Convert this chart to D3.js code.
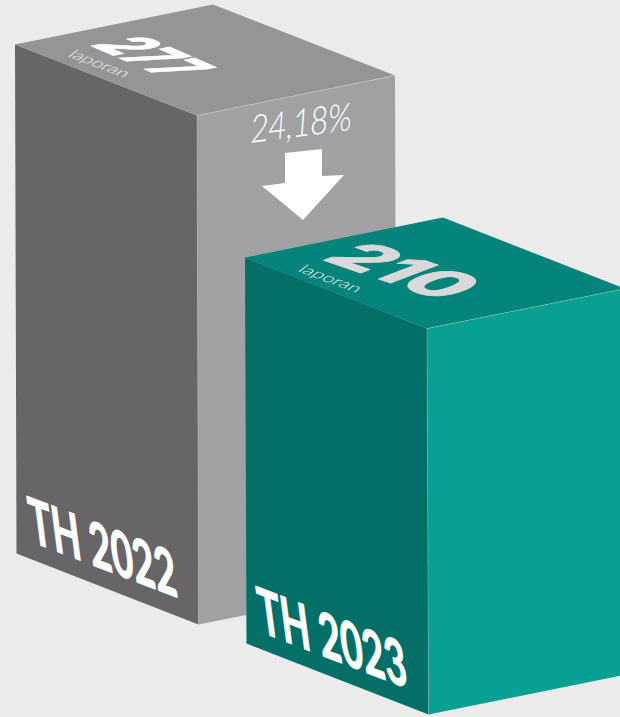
<!DOCTYPE html>
<html><head><meta charset="utf-8">
<script src="https://cdn.jsdelivr.net/npm/d3@7"></script>
<style>html,body{margin:0;padding:0;background:#ebebeb;overflow:hidden}svg{display:block}</style>
</head><body>
<svg id="c" width="620" height="717"></svg>
<script>
const categories = ["TH 2022", "TH 2023"];
const values = [277, 210];
const unitLabel = "laporan";
const changeLabel = "24,18%";
const leftColors = ["#676568", "#046f67"];
const topColors = ["#959496", "#04847a"];
const rightColors = ["#a1a1a3", "#08a093"];
const valueColors = ["#ffffff", "#d9d9d9"];

const svg = d3.select("#c");
const W = 620, H = 717;
svg.append("rect").attr("width", W).attr("height", H).attr("fill", "#ebebeb");

const h = d3.scaleLinear().domain([0, 277]).range([0, 509]);
const baseX = d3.scalePoint().domain(categories).range([16.5, 246.5]);
const baseY = d3.scalePoint().domain(categories).range([553.5, 643.5]);
const u = [182, 71];   // front-left edge
const v = [198, -40];  // right edge going back
const lean = -1.5;

const data = categories.map((c, i) => ({
  c, i, value: values[i],
  x: baseX(c), y: baseY(c), h: h(values[i])
}));
const pts = a => a.map(p => p.join(",")).join(" ");

// Places text so its baseline runs along `base` from `o`, and cap height spans `up`.
function placeText(parent, str, o, base, up, family, weight, fill, stroke) {
  const S = 100;
  const t = parent.append("text")
    .attr("font-family", family).attr("font-weight", weight)
    .attr("font-size", S).attr("fill", fill).text(str);
  if (stroke) t.attr("stroke", fill).attr("stroke-width", stroke).attr("stroke-linejoin", "round");
  const w = t.node().getComputedTextLength();
  const cap = 0.72 * S;
  t.attr("transform", `matrix(${base[0]/w},${base[1]/w},${-up[0]/cap},${-up[1]/cap},${o[0]},${o[1]})`);
  return t;
}

const g = svg.selectAll("g.bar").data(data).join("g").attr("class", "bar");

const valueLayout = [
  {o: [89, 45], base: [76, 33], up: [52, -10]},
  {o: [320, 259], base: [122, 42], up: [47, -18]}
];
const unitLayout = [
  {o: [67, 56], base: [57, 22], up: [9, -7]},
  {o: [297, 271], base: [59, 22], up: [9, -7]}
];
const catLayout = [
  {o: [32, 542], base: [147, 56], up: [-6, -46]},
  {o: [261, 632], base: [148, 57], up: [-6, -46]}
];

g.each(function(d) {
  const s = d3.select(this);
  const bl = [d.x, d.y];
  const bm = [d.x + u[0], d.y + u[1]];
  const br = [bm[0] + v[0], bm[1] + v[1]];
  const up = p => [p[0] + lean, p[1] - d.h];
  const tl = up(bl), tm = up(bm), tr = up(br);
  const tb = [tl[0] + v[0], tl[1] + v[1]];
  s.append("polygon").attr("points", pts([bm, br, tr, tm])).attr("fill", rightColors[d.i]);
  s.append("polygon").attr("points", pts([bl, bm, tm, tl])).attr("fill", leftColors[d.i]);
  s.append("polygon").attr("points", pts([tl, tm, tr, tb])).attr("fill", topColors[d.i]);
  s.append("polyline").attr("points", pts([tm, tr])).attr("fill", "none").attr("stroke", "#fff").attr("stroke-opacity", .35).attr("stroke-width", .8);
  s.append("line").attr("x1", tm[0]).attr("y1", tm[1]).attr("x2", bm[0]).attr("y2", bm[1]).attr("stroke", "#fff").attr("stroke-opacity", .25).attr("stroke-width", .8);

  const vl = valueLayout[d.i], ul = unitLayout[d.i], cl = catLayout[d.i];
  placeText(s, String(d.value), vl.o, vl.base, vl.up, "Inter, sans-serif", 800, valueColors[d.i], 2);
  placeText(s, unitLabel, ul.o, ul.base, ul.up, "Lato, sans-serif", 300, "#f0f0f0");
  placeText(s, d.c, cl.o, cl.base, cl.up, "Lato, sans-serif", 700, "#fff", 2);
});

// change annotation on the grey right face
placeText(svg, changeLabel, [250, 143], [101, -13], [2, -28], "Lato, sans-serif", 300, "#fff");
const arrow = d3.line()([[285,153],[322,149],[322,176],[344,175],[303,220],[262,186],[285,183]]) + "Z";
svg.append("path").attr("d", arrow).attr("fill", "#fff");
svg.selectAll("g.bar").filter(d => d.i === 1).raise();
</script>
</body></html>
